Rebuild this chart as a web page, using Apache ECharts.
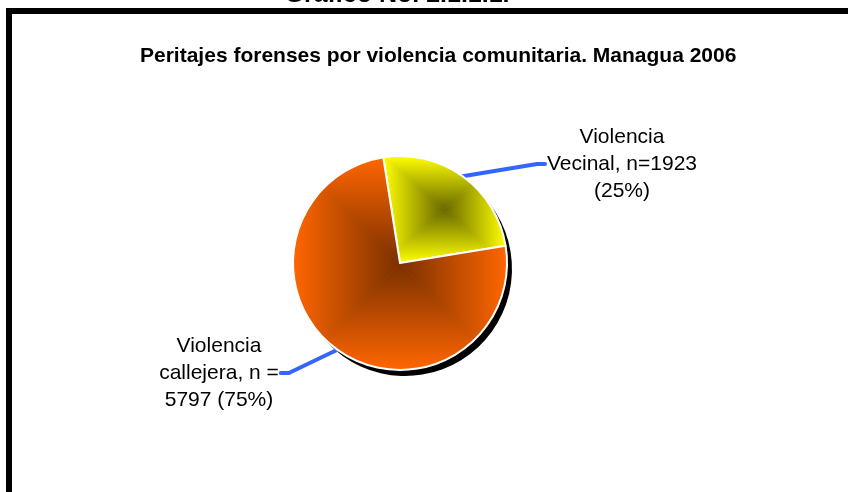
<!DOCTYPE html>
<html style="height: 100%">
<head>
    <meta charset="utf-8">
</head>
<body style="height: 100%; margin: 0; background: #fff">
<div id="container" style="width: 848px; height: 492px"></div>
<script type="text/javascript" src="https://cdn.jsdelivr.net/npm/echarts@6/dist/echarts.min.js"></script>
<script type="text/javascript">
var categories = ['Violencia Vecinal', 'Violencia callejera'];
var values = [1923, 5797];
var labelHead = ['Violencia\nVecinal, n=', 'Violencia\ncallejera, n =\n'];
// where the label blocks sit (centre of each text block)
var labelPos = [[622, 164], [219, 373]];

var W = 848, H = 492;
var CX = 400, CY = 263, R = 107, START = 99;
// edge colour / centre colour of each slice (excel style "from centre" fill)
var sliceFill = [['#ffff00', '#686800'], ['#ff6600', '#7a3000']];

var dom = document.getElementById('container');
var myChart = echarts.init(dom);

// bounding box of a sector, angles in degrees (counter clockwise, y up)
function sectorBox(a0, a1) {
    var pts = [[CX, CY]];
    function at(a) {
        var t = a * Math.PI / 180;
        pts.push([CX + R * Math.cos(t), CY - R * Math.sin(t)]);
    }
    at(a0); at(a1);
    for (var k = -720; k <= 720; k += 90) {
        if (k < a0 && k > a1) at(k);
    }
    var b = [Infinity, Infinity, -Infinity, -Infinity];
    pts.forEach(function (p) {
        b[0] = Math.min(b[0], p[0]); b[1] = Math.min(b[1], p[1]);
        b[2] = Math.max(b[2], p[0]); b[3] = Math.max(b[3], p[1]);
    });
    return b;
}

// rectangular "pyramid" gradient painted on a canvas the size of the chart
function boxFill(b, edge, centre) {
    var cv = document.createElement('canvas');
    cv.width = W; cv.height = H;
    var ctx = cv.getContext('2d');
    var cx = (b[0] + b[2]) / 2, cy = (b[1] + b[3]) / 2;
    ctx.fillStyle = edge;
    ctx.fillRect(0, 0, W, H);
    var tris = [
        [[b[0], b[1]], [b[2], b[1]], [cx, b[1]]],
        [[b[0], b[3]], [b[2], b[3]], [cx, b[3]]],
        [[b[0], b[1]], [b[0], b[3]], [b[0], cy]],
        [[b[2], b[1]], [b[2], b[3]], [b[2], cy]]
    ];
    tris.forEach(function (t) {
        var g = ctx.createLinearGradient(t[2][0], t[2][1], cx, cy);
        g.addColorStop(0, edge);
        g.addColorStop(1, centre);
        ctx.fillStyle = g;
        ctx.beginPath();
        ctx.moveTo(t[0][0], t[0][1]);
        ctx.lineTo(t[1][0], t[1][1]);
        ctx.lineTo(cx, cy);
        ctx.closePath();
        ctx.fill();
        ctx.strokeStyle = g;
        ctx.lineWidth = 0.6;
        ctx.stroke();
    });
    return { image: cv, repeat: 'no-repeat' };
}

var total = values.reduce(function (s, v) { return s + v; }, 0);
var pieData = [];
var shadowData = [];
var a = START;
for (var i = 0; i < categories.length; i++) {
    var sweep = values[i] / total * 360;
    var box = sectorBox(a, a - sweep);
    a -= sweep;
    pieData.push({ name: categories[i], value: values[i],
        itemStyle: { color: boxFill(box, sliceFill[i][0], sliceFill[i][1]) } });
    shadowData.push({ name: categories[i], value: values[i] });
}

var option = {
    backgroundColor: '#fff',
    animation: false,
    title: {
        text: 'Peritajes forenses por violencia comunitaria. Managua 2006',
        left: 135,
        top: 41,
        textStyle: { fontFamily: 'Liberation Sans, Arial', fontWeight: 'bold', fontSize: 21, color: '#000' }
    },
    graphic: [
        { type: 'rect', shape: { x: 9, y: 11, width: 900, height: 600 },
          style: { fill: 'none', stroke: '#000', lineWidth: 6 }, silent: true },
        { type: 'text', x: 397, y: -5,
          style: { text: 'Gráfico No. 2.1.1.1.', fill: '#000', align: 'center', verticalAlign: 'middle',
                   font: 'bold 25px "Liberation Sans", Arial' }, silent: true }
    ],
    series: [
        {
            name: 'sombra',
            type: 'pie',
            z: 1,
            silent: true,
            center: [CX + 5, CY + 6],
            radius: R,
            startAngle: START,
            itemStyle: { color: '#000' },
            label: { show: false },
            labelLine: { show: false },
            emphasis: { disabled: true },
            data: shadowData
        },
        {
            name: 'Peritajes',
            type: 'pie',
            z: 2,
            center: [CX, CY],
            radius: R,
            startAngle: START,
            percentPrecision: 0,
            itemStyle: { borderColor: '#fff', borderWidth: 2 },
            emphasis: { disabled: true },
            label: {
                show: true,
                position: 'outside',
                fontFamily: 'Liberation Sans, Arial',
                fontSize: 21,
                lineHeight: 27,
                color: '#000',
                align: 'center',
                formatter: function (p) {
                    if (p.dataIndex === 0) return labelHead[0] + p.value + '\n(' + p.percent + '%)';
                    return labelHead[1] + p.value + ' (' + p.percent + '%)';
                }
            },
            labelLine: {
                show: true,
                lineStyle: { color: '#3366ff', width: 4, cap: 'round', join: 'round' }
            },
            labelLayout: function (p) {
                var pos = labelPos[p.dataIndex];
                var w = p.labelRect.width;
                var dir = p.dataIndex === 0 ? -1 : 1;
                var edge = pos[0] + dir * w / 2;
                var start = p.labelLinePoints ? p.labelLinePoints[0] : [pos[0], pos[1]];
                return {
                    x: pos[0],
                    y: pos[1],
                    align: 'center',
                    verticalAlign: 'middle',
                    labelLinePoints: [start, [edge + dir * 10, pos[1]], [edge + dir * 2, pos[1]]]
                };
            },
            data: pieData
        }
    ]
};

if (option && typeof option === 'object') {
    myChart.setOption(option, true);
}
</script>
</body>
</html>
